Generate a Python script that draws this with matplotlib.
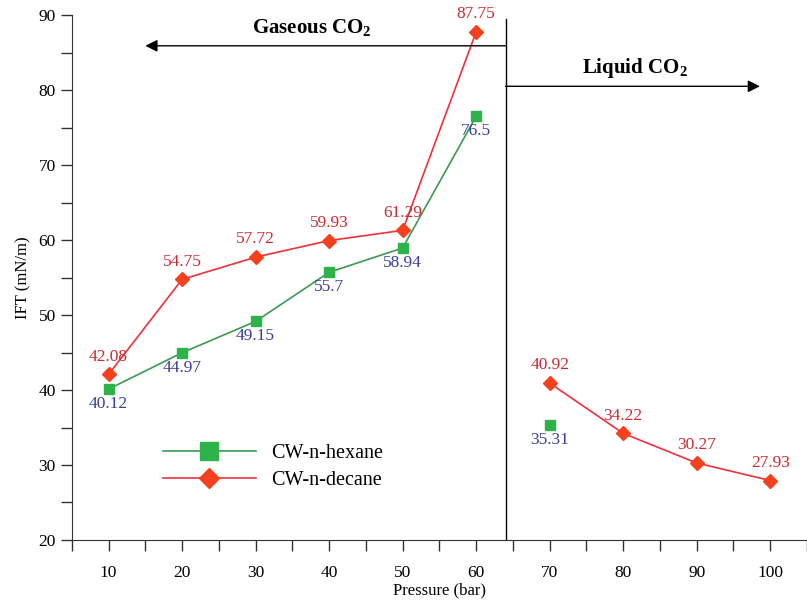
import matplotlib
matplotlib.use("Agg")
import matplotlib.pyplot as plt
from matplotlib.ticker import MultipleLocator

plt.rcParams['font.family'] = ['Liberation Serif', 'DejaVu Serif']
plt.rcParams['mathtext.fontset'] = 'custom'
plt.rcParams['mathtext.rm'] = 'Liberation Serif'
plt.rcParams['mathtext.bf'] = 'Liberation Serif:bold'

# Data
hex_p_gas = [10, 20, 30, 40, 50, 60]
hex_ift_gas = [40.12, 44.97, 49.15, 55.7, 58.94, 76.5]
hex_p_liq = [70]
hex_ift_liq = [35.31]

dec_p_gas = [10, 20, 30, 40, 50, 60]
dec_ift_gas = [42.08, 54.75, 57.72, 59.93, 61.29, 87.75]
dec_p_liq = [70, 80, 90, 100]
dec_ift_liq = [40.92, 34.22, 30.27, 27.93]

x_ticks = [10, 20, 30, 40, 50, 60, 70, 80, 90, 100]
y_ticks = [20, 30, 40, 50, 60, 70, 80, 90]

green_line = '#3c9a50'
green_mark = '#2db34a'
red_line = '#f0303a'
red_mark = '#f5401e'
red_text = '#cc2a30'
blue_text = '#3a3f9a'

fig = plt.figure(figsize=(8.07, 6.02), dpi=100)
ax = fig.add_axes([0.089, 0.103, 0.911, 0.872])

ax.plot(hex_p_gas, hex_ift_gas, color=green_line, lw=1.2, marker='s', ms=7,
        mfc=green_mark, mec=green_mark, label='CW-n-hexane')
ax.plot(hex_p_liq, hex_ift_liq, color=green_line, lw=1.2, marker='s', ms=7,
        mfc=green_mark, mec=green_mark, ls='none')
ax.plot(dec_p_gas, dec_ift_gas, color=red_line, lw=1.2, marker='D', ms=7,
        mfc=red_mark, mec=red_mark, label='CW-n-decane')
ax.plot(dec_p_liq, dec_ift_liq, color=red_line, lw=1.2, marker='D', ms=7,
        mfc=red_mark, mec=red_mark)

fs = 12.5
# decane labels (above)
for x, y in zip(dec_p_gas + dec_p_liq, dec_ift_gas + dec_ift_liq):
    ax.annotate(f"{y:g}", (x, y), xytext=(0, 7), textcoords='offset points',
                ha='center', va='bottom', color=red_text, fontsize=fs)
# hexane labels (below)
for x, y in zip(hex_p_gas + hex_p_liq, hex_ift_gas + hex_ift_liq):
    ax.annotate(f"{y:g}", (x, y), xytext=(0, -5), textcoords='offset points',
                ha='center', va='top', color=blue_text, fontsize=fs)

# Phase boundary and arrows
ax.plot([64, 64], [20, 89.5], color='black', lw=1.0)
ax.annotate('', xy=(15, 85.9), xytext=(64, 85.9),
            arrowprops=dict(arrowstyle='-|>', color='black', lw=1.0,
                            mutation_scale=18, shrinkA=0, shrinkB=0))
ax.annotate('', xy=(98.6, 80.5), xytext=(64, 80.5),
            arrowprops=dict(arrowstyle='-|>', color='black', lw=1.0,
                            mutation_scale=18, shrinkA=0, shrinkB=0))
ax.text(37.6, 88.2, r'Gaseous CO$_\mathbf{2}$', ha='center', va='center',
        fontsize=15, fontweight='bold')
ax.text(81.6, 82.9, r'Liquid CO$_\mathbf{2}$', ha='center', va='center',
        fontsize=15, fontweight='bold')

ax.set_xlim(5, 105)
ax.set_ylim(20, 90)
ax.set_xticks(x_ticks)
ax.xaxis.set_minor_locator(MultipleLocator(5))
ax.set_yticks(y_ticks)
ax.yaxis.set_minor_locator(MultipleLocator(5))
ax.tick_params(which='both', direction='out', length=8, width=1.0,
               labelsize=12.5, color='#333333')
ax.tick_params(axis='x', pad=10)
ax.spines['top'].set_visible(False)
ax.spines['right'].set_visible(False)
for s in ('left', 'bottom'):
    ax.spines[s].set_color('#333333')

ax.set_xlabel('Pressure (bar)', fontsize=12, labelpad=1)
ax.set_ylabel('IFT (mN/m)', fontsize=12, labelpad=5)

leg = ax.legend(loc='center left', bbox_to_anchor=(0.124, 0.139), frameon=False,
                fontsize=14.5, handlelength=4.6,
                labelspacing=0.4, handletextpad=0.75, borderpad=0,
                borderaxespad=0)
leg.legend_handles[0].set_markersize(13.5)
leg.legend_handles[1].set_markersize(10.5)

fig.savefig('out.png', dpi=100)
